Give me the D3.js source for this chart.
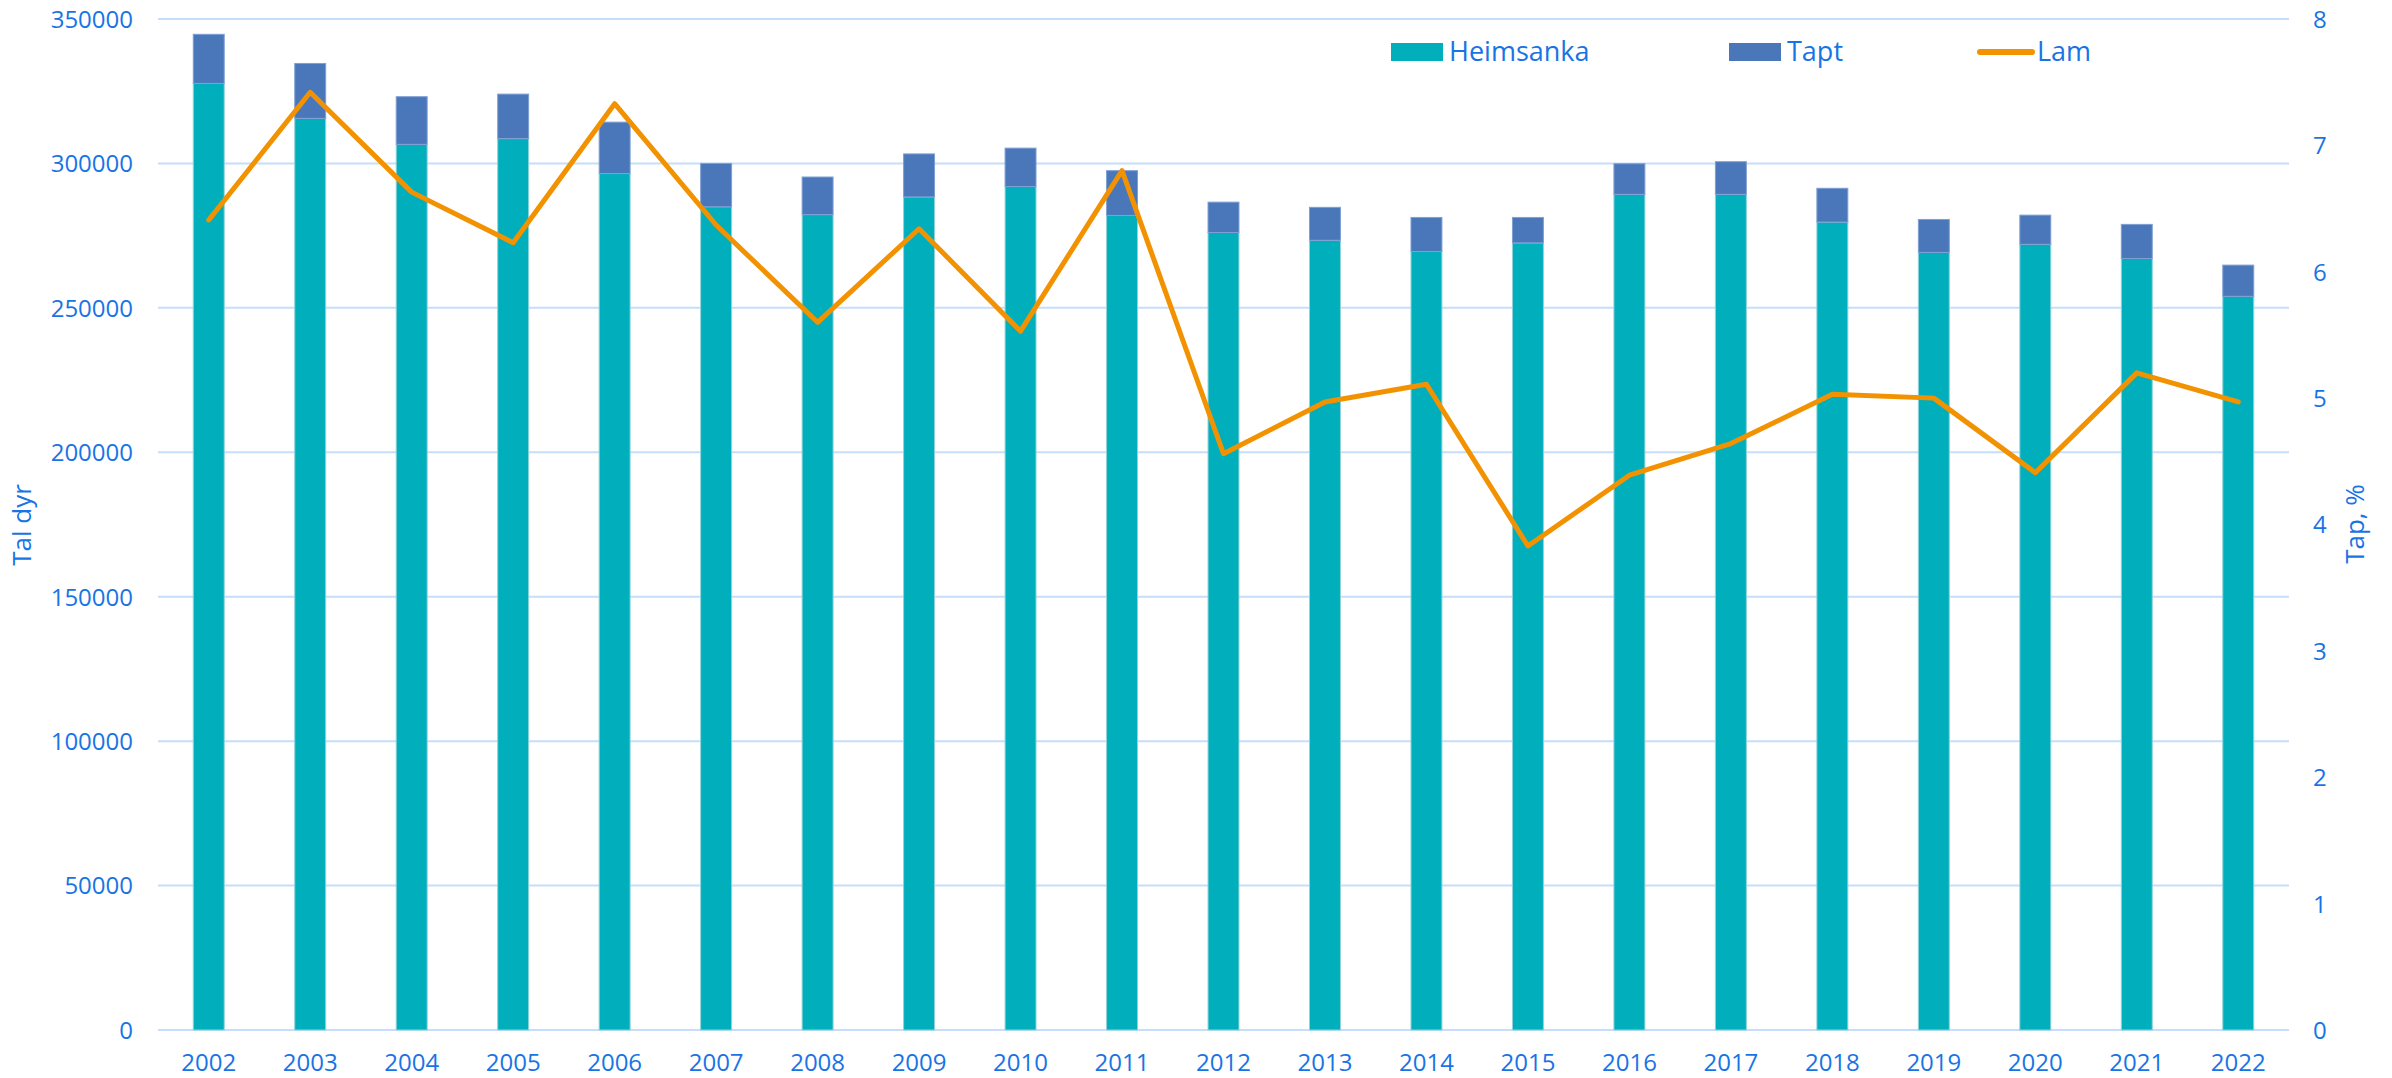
<!DOCTYPE html>
<html>
<head>
<meta charset="utf-8">
<script src="https://cdn.jsdelivr.net/npm/d3@7"></script>
<style>
  html, body { margin: 0; padding: 0; background: #fff; }
  svg { display: block; font-family: "Open Sans", "Noto Sans", sans-serif; }
  svg text { font-family: "Open Sans", "Noto Sans", sans-serif; }
</style>
</head>
<body>
<svg id="chart" width="2392" height="1078"></svg>
<script>
// ---- Data ----
const years = ["2002","2003","2004","2005","2006","2007","2008","2009","2010","2011","2012","2013","2014","2015","2016","2017","2018","2019","2020","2021","2022"];
const heimsanka = [327700,315600,306600,308600,296500,285000,282300,288400,292000,282000,276100,273400,269500,272500,289300,289300,279700,269200,272000,267100,254000];
const tapt = [17000,19000,16500,15400,17800,15000,13000,14900,13300,15500,10500,11400,11800,8800,10600,11300,11700,11400,10100,11800,10800];
const lam = [6.41,7.42,6.63,6.23,7.33,6.37,5.60,6.34,5.53,6.80,4.56,4.97,5.11,3.83,4.39,4.64,5.03,5.00,4.41,5.20,4.97];
const leftTicks = [0,50000,100000,150000,200000,250000,300000,350000];
const rightTicks = [0,1,2,3,4,5,6,7,8];
const seriesNames = ["Heimsanka","Tapt","Lam"];

// ---- Styles ----
const textColor = "#1874E5";
const gridColor = "#C6DEFA";
const cHeim = "#00AEBC";
const cTapt = "#4A77BA";
const cLam = "#F39200";
const fontFam = '"Open Sans", "Noto Sans", sans-serif';

const svg = d3.select("#chart");
const pLeft = 158, pRight = 2289, pTop = 19, pBottom = 1030;

const x = d3.scaleBand().domain(years).range([pLeft, pRight]).paddingInner(0.695).paddingOuter(0.3475);
const y = d3.scaleLinear().domain([0, 350000]).range([pBottom, pTop]);
const y2 = d3.scaleLinear().domain([0, 8]).range([pBottom, pTop]);

// Gridlines
svg.append("g").selectAll("line").data(leftTicks).join("line")
  .attr("x1", pLeft).attr("x2", pRight)
  .attr("y1", d => y(d)).attr("y2", d => y(d))
  .attr("stroke", gridColor).attr("stroke-width", 2);

// Left axis
const yAxis = d3.axisLeft(y).tickValues(leftTicks).tickSize(0).tickPadding(25).tickFormat(d3.format("d"));
const gy = svg.append("g").attr("transform", `translate(${pLeft},0)`).call(yAxis).attr("font-family", fontFam);
gy.select(".domain").remove();
gy.selectAll("text").attr("fill", textColor).style("font-size", "24px").attr("dy", "0.35em");

// Right axis
const y2Axis = d3.axisRight(y2).tickValues(rightTicks).tickSize(0).tickPadding(24).tickFormat(d3.format("d"));
const gy2 = svg.append("g").attr("transform", `translate(${pRight},0)`).call(y2Axis).attr("font-family", fontFam);
gy2.select(".domain").remove();
gy2.selectAll("text").attr("fill", textColor).style("font-size", "24px").attr("dy", "0.35em");

// X axis
const xAxis = d3.axisBottom(x).tickSize(0).tickPadding(24);
const gx = svg.append("g").attr("transform", `translate(0,${pBottom})`).call(xAxis).attr("font-family", fontFam);
gx.select(".domain").remove();
gx.selectAll("text").attr("fill", textColor).style("font-size", "24px");

// Stacked bars
const rows = years.map((yr, i) => ({year: yr, Heimsanka: heimsanka[i], Tapt: tapt[i]}));
const stack = d3.stack().keys(["Heimsanka","Tapt"])(rows);
const colors = {Heimsanka: cHeim, Tapt: cTapt};
const strokes = {Heimsanka: "#8fd3da", Tapt: "#7f9fd3"};
svg.append("g").selectAll("g").data(stack).join("g")
  .attr("fill", d => colors[d.key])
  .attr("stroke", d => strokes[d.key]).attr("stroke-width", 1)
  .selectAll("rect").data(d => d).join("rect")
  .attr("x", d => x(d.data.year))
  .attr("width", x.bandwidth())
  .attr("y", d => y(d[1]))
  .attr("height", d => y(d[0]) - y(d[1]));

// Line
const line = d3.line().x((d, i) => x(years[i]) + x.bandwidth() / 2).y(d => y2(d));
svg.append("path").datum(lam)
  .attr("d", line).attr("fill", "none")
  .attr("stroke", cLam).attr("stroke-width", 5)
  .attr("stroke-linejoin", "round").attr("stroke-linecap", "round");

// Axis titles
svg.append("text")
  .attr("transform", "translate(31,525) rotate(-90)")
  .attr("text-anchor", "middle").attr("fill", textColor)
  .style("font-size", "26px").text("Tal dyr");
svg.append("text")
  .attr("transform", "translate(2364,524) rotate(-90)")
  .attr("text-anchor", "middle").attr("fill", textColor)
  .style("font-size", "26px").text("Tap, %");

// Legend
const lg = svg.append("g");
const legendItems = [
  {name: seriesNames[0], x: 1391, type: "rect", color: cHeim},
  {name: seriesNames[1], x: 1729, type: "rect", color: cTapt},
  {name: seriesNames[2], x: 1978, type: "line", color: cLam}
];
legendItems.forEach(it => {
  if (it.type === "rect") {
    lg.append("rect").attr("x", it.x).attr("y", 43).attr("width", 52).attr("height", 18).attr("fill", it.color);
    lg.append("text").attr("x", it.x + 58).attr("y", 61).attr("fill", textColor).style("font-size", "27px").text(it.name);
  } else {
    lg.append("line").attr("x1", it.x + 2).attr("x2", it.x + 54).attr("y1", 52).attr("y2", 52)
      .attr("stroke", it.color).attr("stroke-width", 6).attr("stroke-linecap", "round");
    lg.append("text").attr("x", it.x + 59).attr("y", 61).attr("fill", textColor).style("font-size", "27px").text(it.name);
  }
});
</script>
</body>
</html>
